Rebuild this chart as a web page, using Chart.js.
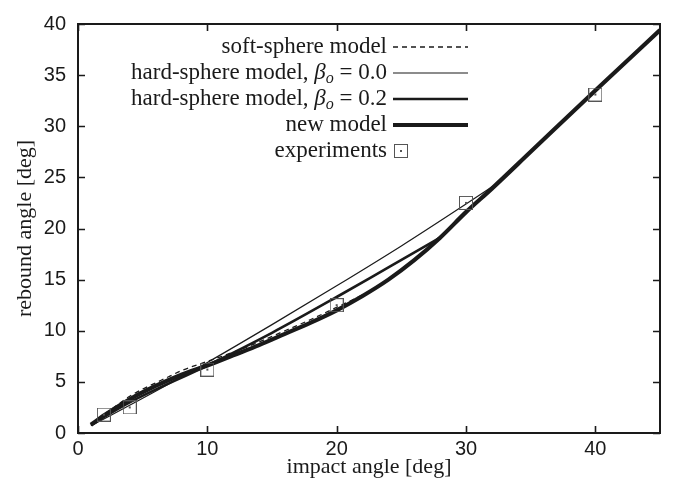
<!DOCTYPE html>
<html>
<head>
<meta charset="utf-8">
<script src="https://cdn.jsdelivr.net/npm/chart.js@4.4.1/dist/chart.umd.min.js"></script>
<style>
  html, body { margin: 0; padding: 0; background: #fff; }
  #wrap { width: 674px; height: 489px; }
</style>
</head>
<body>
<div id="wrap"><canvas id="chart"></canvas></div>
<script>
// ticks
const xTicks = [0, 10, 20, 30, 40];
const yTicks = [0, 5, 10, 15, 20, 25, 30, 35, 40];

// soft-sphere model (dashed)
const softX = [1, 2, 3, 4, 5, 6, 7, 8, 10, 12, 14, 16, 18, 20, 22, 23];
const softY = [0.8, 1.8, 2.7, 3.6, 4.3, 4.9, 5.5, 6.1, 7.0, 7.9, 8.9, 10.0, 11.1, 12.3, 13.5, 14.2];

// hard-sphere model, beta_o = 0.0 (thin)
const hard0X = [1, 5, 10, 15, 20, 25, 30, 32.5];
const hard0Y = [0.7, 3.4, 6.9, 10.6, 14.4, 18.3, 22.4, 24.5];

// hard-sphere model, beta_o = 0.2 (medium)
const hard2X = [1, 4, 10, 15, 20, 24, 28];
const hard2Y = [0.8, 3.0, 6.6, 9.8, 13.3, 16.2, 19.1];

// new model (thick)
const newX = [1, 2, 4, 6, 8, 10, 12, 14, 16, 18, 20, 22, 24, 26, 28, 30, 32, 35, 40, 45];
const newY = [0.8, 1.7, 3.3, 4.6, 5.7, 6.6, 7.6, 8.6, 9.7, 10.8, 12.0, 13.4, 15.0, 16.9, 19.1, 21.6, 23.9, 27.5, 33.5, 39.4];

// experiments
const expX = [2, 4, 10, 20, 30, 40];
const expY = [1.8, 2.5, 6.2, 12.5, 22.5, 33.1];

const legendLabels = ["soft-sphere model", "hard-sphere model, β_o = 0.0", "hard-sphere model, β_o = 0.2", "new model", "experiments"];

const INK = "#1a1a1a";
const SERIF = "'Liberation Serif', 'DejaVu Serif', serif";
const SANS = "'Liberation Sans', Arial, sans-serif";

function pts(xs, ys) { return xs.map((x, i) => ({ x: x, y: ys[i] })); }

// square marker with centre dot
function boxMarker() {
    const c = document.createElement("canvas");
    c.width = 14; c.height = 14;
    const g = c.getContext("2d");
    g.strokeStyle = "#555";
    g.lineWidth = 1;
    g.strokeRect(0.5, 0.5, 13, 13);
    g.fillStyle = "#555";
    g.fillRect(6, 6, 2, 2);
    return c;
}
const marker = boxMarker();

const lineStyles = [
    { width: 1.3, dash: [5, 4] },
    { width: 1.2, dash: [] },
    { width: 2.6, dash: [] },
    { width: 4.2, dash: [] }
];

const frame = {
    id: "frame",
    afterDatasetsDraw(chart) {
        const { ctx, chartArea: a, scales: { x, y } } = chart;
        ctx.save();
        ctx.strokeStyle = INK;
        ctx.lineWidth = 2;
        ctx.strokeRect(a.left, a.top, a.right - a.left, a.bottom - a.top);
        ctx.lineWidth = 1.6;
        ctx.beginPath();
        xTicks.forEach(v => {
            const px = Math.round(x.getPixelForValue(v)) + 0.5;
            ctx.moveTo(px, a.bottom); ctx.lineTo(px, a.bottom - 7);
            ctx.moveTo(px, a.top); ctx.lineTo(px, a.top + 7);
        });
        yTicks.forEach(v => {
            const py = Math.round(y.getPixelForValue(v)) + 0.5;
            ctx.moveTo(a.left, py); ctx.lineTo(a.left + 7, py);
            ctx.moveTo(a.right, py); ctx.lineTo(a.right - 7, py);
        });
        ctx.stroke();
        ctx.restore();
    }
};

const keyBox = {
    id: "keyBox",
    afterDraw(chart) {
        const ctx = chart.ctx;
        const textRight = 387, lineL = 393, lineR = 468, top = 47, step = 26;
        ctx.save();
        ctx.fillStyle = INK;
        ctx.textBaseline = "middle";
        legendLabels.forEach((lab, i) => {
            const y = top + i * step;
            // split label into parts, β_o gets italic + subscript
            const parts = [];
            const k = lab.indexOf("β_o");
            if (k >= 0) {
                parts.push({ t: lab.slice(0, k), f: "23px " + SERIF, dy: 0 });
                parts.push({ t: "β", f: "italic 23px " + SERIF, dy: 0 });
                parts.push({ t: "o", f: "italic 16px " + SERIF, dy: 6 });
                parts.push({ t: lab.slice(k + 3), f: "23px " + SERIF, dy: 0 });
            } else {
                parts.push({ t: lab, f: "23px " + SERIF, dy: 0 });
            }
            let w = 0;
            parts.forEach(p => { ctx.font = p.f; p.w = ctx.measureText(p.t).width; w += p.w; });
            let px = textRight - w;
            ctx.textAlign = "left";
            parts.forEach(p => { ctx.font = p.f; ctx.fillText(p.t, px, y + p.dy); px += p.w; });

            if (i < 4) {
                const s = lineStyles[i];
                ctx.strokeStyle = INK;
                ctx.lineWidth = s.width;
                ctx.setLineDash(s.dash);
                ctx.beginPath();
                ctx.moveTo(lineL, y); ctx.lineTo(lineR, y);
                ctx.stroke();
                ctx.setLineDash([]);
            } else {
                ctx.drawImage(marker, 394, y - 7);
            }
        });
        ctx.restore();
    }
};

function curve(label, xs, ys, s, order) {
    return {
        label: label,
        data: pts(xs, ys),
        borderColor: INK,
        borderWidth: s.width,
        borderDash: s.dash,
        pointRadius: 0,
        fill: false,
        cubicInterpolationMode: "monotone",
        order: order
    };
}

new Chart(document.getElementById("chart"), {
    type: "line",
    data: {
        datasets: [
            {
                label: legendLabels[4],
                data: pts(expX, expY),
                showLine: false,
                pointStyle: marker,
                pointRadius: 7,
                order: 0
            },
            curve(legendLabels[0], softX, softY, lineStyles[0], 1),
            curve(legendLabels[1], hard0X, hard0Y, lineStyles[1], 2),
            curve(legendLabels[2], hard2X, hard2Y, lineStyles[2], 3),
            curve(legendLabels[3], newX, newY, lineStyles[3], 4)
        ]
    },
    options: {
        responsive: true,
        maintainAspectRatio: false,
        animation: false,
        layout: { padding: { top: 13, right: 14, left: 0, bottom: 0 } },
        plugins: {
            legend: { display: false },
            tooltip: { enabled: false }
        },
        scales: {
            x: {
                type: "linear",
                min: 0,
                max: 45,
                afterFit(scale) { scale.height = 56; },
                afterBuildTicks(scale) { scale.ticks = xTicks.map(v => ({ value: v })); },
                grid: { display: false, drawTicks: false },
                border: { display: false },
                ticks: { color: INK, font: { family: SANS, size: 20 }, padding: 4 },
                title: { display: true, text: "impact angle [deg]", color: INK, font: { family: SERIF, size: 22 }, padding: { top: 0, bottom: 9 } }
            },
            y: {
                type: "linear",
                min: 0,
                max: 40,
                afterFit(scale) { scale.width = 78; },
                afterBuildTicks(scale) { scale.ticks = yTicks.map(v => ({ value: v })); },
                grid: { display: false, drawTicks: false },
                border: { display: false },
                ticks: { color: INK, font: { family: SANS, size: 20 }, padding: 12 },
                title: { display: true, text: "rebound angle [deg]", color: INK, font: { family: SERIF, size: 22 }, padding: { top: 12, bottom: 0 } }
            }
        }
    },
    plugins: [frame, keyBox]
});
</script>
</body>
</html>
